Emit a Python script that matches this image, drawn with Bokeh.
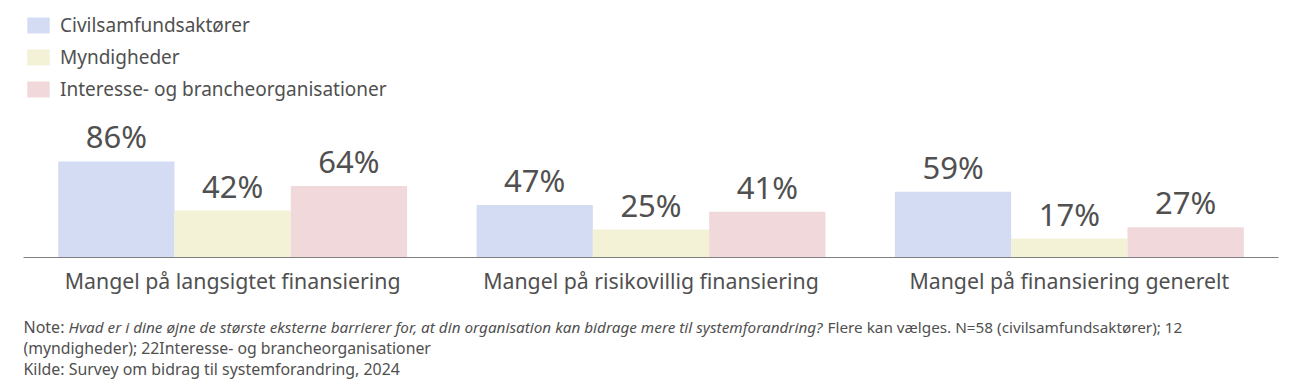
from bokeh.plotting import figure
from bokeh.models import FactorRange, Range1d, ColumnDataSource, Legend, LegendItem, Label, LabelSet
from bokeh.layouts import column
from bokeh.transform import dodge
from bokeh.core.properties import value
from bokeh.embed import file_html
from bokeh.resources import INLINE

categories = ["Mangel på langsigtet finansiering",
              "Mangel på risikovillig finansiering",
              "Mangel på finansiering generelt"]
series = ["Civilsamfundsaktører", "Myndigheder", "Interesse- og brancheorganisationer"]
civil = [86, 47, 59]
myndigheder = [42, 25, 17]
interesse = [64, 41, 27]
colors = ["#d4dcf4", "#f3f1d6", "#f0d8db"]

FONT = "Noto Sans"
TXT = "#505050"

p = figure(width=1298, height=300, x_range=FactorRange(factors=categories),
           y_range=Range1d(0, 230.2), output_backend="svg", toolbar_location=None,
           min_border_left=23, min_border_right=20, min_border_top=0, min_border_bottom=43)
p.outline_line_color = None
p.xgrid.visible = False
p.ygrid.visible = False
p.yaxis.visible = False

src = ColumnDataSource(data=dict(cat=categories, civil=civil, myndigheder=myndigheder, interesse=interesse,
                                 civil_l=[f"{v}%" for v in civil],
                                 myndigheder_l=[f"{v}%" for v in myndigheder],
                                 interesse_l=[f"{v}%" for v in interesse]))

w = 0.278
items = []
for key, off, col, name in zip(["civil", "myndigheder", "interesse"], [-w, 0, w], colors, series):
    r = p.vbar(x=dodge("cat", off, range=p.x_range), top=key, width=w, source=src,
               fill_color=col, line_color=None)
    p.add_layout(LabelSet(x=dodge("cat", off, range=p.x_range), y=key, text=key + "_l", source=src,
                          text_align="center", text_baseline="alphabetic", y_offset=13,
                          text_font=value(FONT), text_font_size=value("31px"), text_color=value(TXT)))
    items.append(LegendItem(label=name, renderers=[r]))

legend = Legend(items=items, location=(1, 155), padding=0, margin=0,
                border_line_color=None, background_fill_alpha=0,
                glyph_width=28, glyph_height=20, label_height=20, spacing=6,
                label_standoff=8, label_text_font=FONT, label_text_font_size="19px",
                label_text_color=TXT)
p.add_layout(legend, "center")

ax = p.xaxis[0]
ax.axis_line_color = "#808080"
ax.axis_line_width = 1
ax.major_tick_line_color = None
ax.minor_tick_line_color = None
ax.major_tick_out = 0
ax.major_label_standoff = 8
ax.major_label_text_font = FONT
ax.major_label_text_font_size = "21.3px"
ax.major_label_text_color = TXT

n = figure(width=1298, height=85, x_range=Range1d(0, 1298), y_range=Range1d(0, 85),
           output_backend="svg", toolbar_location=None,
           min_border_left=0, min_border_right=0, min_border_top=0, min_border_bottom=0)
n.outline_line_color = None
n.xgrid.visible = False
n.ygrid.visible = False
n.xaxis.visible = False
n.yaxis.visible = False

# x positions relative to the aligned frame (frame left edge at page x=23)
note_parts = [
    ("Note:", 0, 59, "normal", "16px"),
    ("Hvad er i dine øjne de største eksterne barrierer for, at din organisation kan bidrage mere til systemforandring?", 45, 59, "italic", "15.3px"),
    ("Flere kan vælges. N=58 (civilsamfundsaktører); 12", 804, 59, "normal", "15.3px"),
    ("(myndigheder); 22Interesse- og brancheorganisationer", 0, 38, "normal", "15.8px"),
    ("Kilde: Survey om bidrag til systemforandring, 2024", 0, 17, "normal", "15.9px"),
]
for t, x, y, st, fs in note_parts:
    n.add_layout(Label(x=x, y=y, x_units="screen", y_units="screen", text=t,
                       text_font=FONT, text_font_size=fs, text_font_style=st,
                       text_color=TXT, text_baseline="alphabetic"))

open("out.html", "w").write(file_html(column(p, n, spacing=0), INLINE))
